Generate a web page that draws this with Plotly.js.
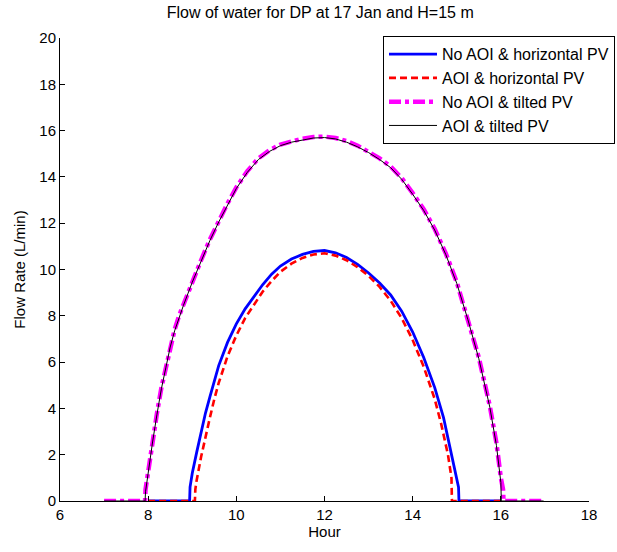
<!DOCTYPE html>
<html>
<head>
<meta charset="utf-8">
<script src="https://cdn.plot.ly/plotly-3.0.1.min.js"></script>
<style>html,body{margin:0;padding:0;background:#fff;}#chart{width:617px;height:552px;}</style>
</head>
<body>
<div id="chart"></div>
<script>
// Hours and flow rates (L/min)
const hoursNoAoiHoriz = [8.0, 8.94, 8.95, 9.0, 9.1, 9.2, 9.3, 9.4, 9.5, 9.6, 9.8, 10.0, 10.2, 10.4, 10.6, 10.8, 11.0, 11.25, 11.5, 11.75, 12.0, 12.25, 12.5, 12.75, 13.0, 13.25, 13.5, 13.75, 14.0, 14.25, 14.5, 14.7, 14.85, 14.95, 15.04, 15.05, 16.0];
const flowNoAoiHoriz  = [0, 0, 0.6, 1.2, 2.1, 3.0, 3.8, 4.5, 5.2, 5.85, 6.85, 7.65, 8.3, 8.85, 9.35, 9.8, 10.15, 10.45, 10.65, 10.78, 10.82, 10.72, 10.52, 10.22, 9.85, 9.42, 8.9, 8.2, 7.3, 6.2, 4.9, 3.6, 2.3, 1.35, 0.6, 0, 0];

const hoursAoiHoriz = [8.0, 9.06, 9.07, 9.1, 9.2, 9.3, 9.4, 9.5, 9.6, 9.8, 10.0, 10.2, 10.4, 10.6, 10.8, 11.0, 11.25, 11.5, 11.75, 12.0, 12.25, 12.5, 12.75, 13.0, 13.25, 13.5, 13.75, 14.0, 14.25, 14.5, 14.65, 14.8, 14.88, 14.89, 16.0];
const flowAoiHoriz  = [0, 0, 0.5, 0.9, 1.9, 2.8, 3.6, 4.4, 5.1, 6.25, 7.15, 7.9, 8.5, 9.05, 9.5, 9.9, 10.25, 10.5, 10.65, 10.7, 10.6, 10.4, 10.1, 9.72, 9.25, 8.65, 7.9, 6.95, 5.8, 4.4, 3.3, 2.0, 1.0, 0, 0];

const hoursNoAoiTilt = [7.0, 7.93, 7.94, 8.0, 8.1, 8.2, 8.3, 8.4, 8.5, 8.6, 8.7, 8.8, 8.9, 9.0, 9.2, 9.4, 9.6, 9.8, 10.0, 10.25, 10.5, 10.75, 11.0, 11.25, 11.5, 11.75, 12.0, 12.25, 12.5, 12.75, 13.0, 13.25, 13.5, 13.75, 14.0, 14.25, 14.5, 14.75, 15.0, 15.25, 15.5, 15.75, 15.9, 16.0, 16.05, 16.06, 16.97];
const flowNoAoiTilt  = [0, 0, 0.5, 1.3, 2.6, 3.8, 4.9, 5.8, 6.7, 7.4, 8.0, 8.5, 9.0, 9.5, 10.4, 11.3, 12.1, 12.85, 13.55, 14.25, 14.8, 15.15, 15.4, 15.55, 15.65, 15.72, 15.74, 15.68, 15.55, 15.35, 15.1, 14.8, 14.45, 13.95, 13.3, 12.6, 11.75, 10.7, 9.45, 7.9, 6.2, 4.1, 2.5, 1.0, 0.5, 0, 0];

const hoursAoiTilt = [7.0, 7.93, 7.94, 8.0, 8.1, 8.2, 8.3, 8.4, 8.5, 8.6, 8.7, 8.8, 8.9, 9.0, 9.2, 9.4, 9.6, 9.8, 10.0, 10.25, 10.5, 10.75, 11.0, 11.25, 11.5, 11.75, 12.0, 12.25, 12.5, 12.75, 13.0, 13.25, 13.5, 13.75, 14.0, 14.25, 14.5, 14.75, 15.0, 15.25, 15.5, 15.75, 15.9, 16.0, 16.01, 16.97];
const flowAoiTilt  = [0, 0, 0.4, 1.25, 2.55, 3.75, 4.85, 5.75, 6.65, 7.35, 7.95, 8.45, 8.95, 9.45, 10.35, 11.25, 12.05, 12.8, 13.5, 14.2, 14.75, 15.1, 15.35, 15.5, 15.6, 15.68, 15.7, 15.64, 15.5, 15.3, 15.05, 14.75, 14.4, 13.9, 13.25, 12.55, 11.7, 10.65, 9.4, 7.85, 6.15, 4.05, 2.4, 0.8, 0, 0];

const seriesNames = ["No AOI & horizontal PV", "AOI & horizontal PV", "No AOI & tilted PV", "AOI & tilted PV"];
const xTicks = [6, 8, 10, 12, 14, 16, 18];
const yTicks = [0, 2, 4, 6, 8, 10, 12, 14, 16, 18, 20];

const font = "Liberation Sans, Arial, sans-serif";

const traces = [
  {x: hoursNoAoiHoriz, y: flowNoAoiHoriz, name: seriesNames[0], legendgroup: "a",
   mode: "lines", line: {color: "#0000FF", width: 2.8}},
  {x: hoursAoiHoriz, y: flowAoiHoriz, name: seriesNames[1], legendgroup: "b",
   mode: "lines", line: {color: "#FF0000", width: 2.6, dash: "7px,4px"}},
  {x: hoursNoAoiTilt, y: flowNoAoiTilt, name: seriesNames[2], legendgroup: "c",
   mode: "lines", line: {color: "#FF00FF", width: 4.5, dash: "12px,4px,4px,4px"}},
  {x: hoursAoiTilt, y: flowAoiTilt, name: seriesNames[3], legendgroup: "d",
   mode: "lines", line: {color: "#000000", width: 1}}
];

const layout = {
  width: 617, height: 552,
  margin: {l: 60, r: 2, t: 38, b: 51, pad: 0},
  paper_bgcolor: "#fff", plot_bgcolor: "#fff",
  font: {family: font, size: 15, color: "#000"},
  title: {text: "Flow of water for DP at 17 Jan and H=15 m", x: 0.519, xanchor: "center", y: 0.978, yanchor: "middle",
          font: {family: font, size: 16, color: "#000"}},
  showlegend: true,
  legend: {x: 1, xanchor: "right", y: 1.004, yanchor: "top",
           bordercolor: "#000", borderwidth: 1, bgcolor: "#fff",
           font: {family: font, size: 16, color: "#000"}, tracegroupgap: 6,
           traceorder: "normal", itemwidth: 48},
  xaxis: {domain: [0, 0.9532], range: [6, 18], tickvals: xTicks, ticktext: xTicks.map(String),
          showgrid: false, zeroline: false, showline: true, linecolor: "#000", linewidth: 1,
          ticks: "inside", ticklen: 5, tickcolor: "#000", mirror: false,
          tickfont: {family: font, size: 15},
          title: {text: "Hour", font: {family: font, size: 15}, standoff: 4}},
  yaxis: {range: [0, 20], tickvals: yTicks, ticktext: yTicks.map(String),
          showgrid: false, zeroline: false, showline: true, linecolor: "#000", linewidth: 1,
          ticks: "inside", ticklen: 5, tickcolor: "#000", mirror: false,
          tickfont: {family: font, size: 15},
          title: {text: "Flow Rate (L/min)", font: {family: font, size: 15}, standoff: 10}}
};

Plotly.newPlot("chart", traces, layout, {displayModeBar: false, staticPlot: true});
</script>
</body>
</html>
